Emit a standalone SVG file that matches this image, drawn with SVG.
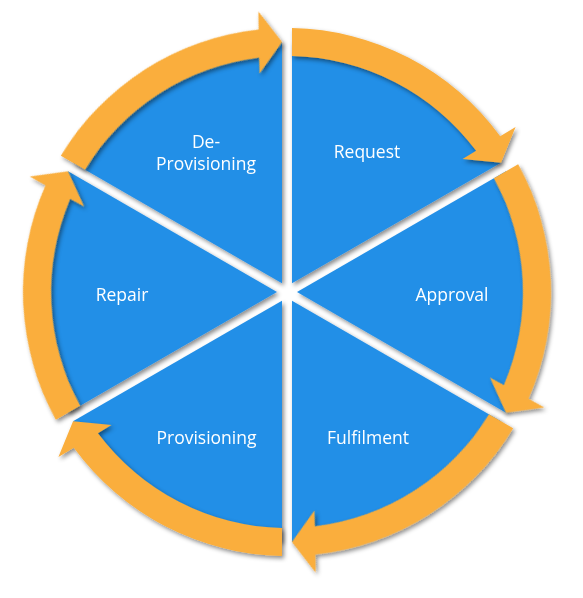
<svg xmlns="http://www.w3.org/2000/svg" width="583" height="598" viewBox="0 0 583 598">
<defs>
<filter id="sh" x="-10%" y="-10%" width="125%" height="125%">
<feDropShadow dx="2" dy="2.5" stdDeviation="2" flood-color="#000" flood-opacity="0.45"/>
</filter>
<path id="wedge" d="M292,283.34 L292,42.05 A250,250 0 0 1 500.96,162.70 Z"/>
<path id="arrow" d="M292,28.05 A264,264 0 0 1 500.19,136.30 L515.59,126.98 L500.96,162.70 L462.53,159.06 L476.12,150.84 A236,236 0 0 0 292,56.05 Z"/>
</defs>
<style>
.w{fill:#238FE7}
.a{fill:#FAAE3C}
.t{fill:#fff;font-family:"Open Sans","Noto Sans",sans-serif;font-size:17.5px;text-anchor:middle}
</style>
<rect width="583" height="598" fill="#fff"/>
<g id="node-request" filter="url(#sh)"><use href="#wedge" class="w"/></g>
<g id="node-approval" filter="url(#sh)"><use href="#wedge" class="w" transform="rotate(60 287 292)"/></g>
<g id="node-fulfilment" filter="url(#sh)"><use href="#wedge" class="w" transform="rotate(120 287 292)"/></g>
<g id="node-provisioning" filter="url(#sh)"><use href="#wedge" class="w" transform="rotate(180 287 292)"/></g>
<g id="node-repair" filter="url(#sh)"><use href="#wedge" class="w" transform="rotate(240 287 292)"/></g>
<g id="node-deprovisioning" filter="url(#sh)"><use href="#wedge" class="w" transform="rotate(300 287 292)"/></g>
<g id="connectors" filter="url(#sh)">
<use href="#arrow" class="a"/>
<use href="#arrow" class="a" transform="rotate(60 287 292)"/>
<use href="#arrow" class="a" transform="rotate(120 287 292)"/>
<use href="#arrow" class="a" transform="rotate(180 287 292)"/>
<use href="#arrow" class="a" transform="rotate(240 287 292)"/>
<use href="#arrow" class="a" transform="rotate(300 287 292)"/>
</g>
<g id="labels">
<text class="t" x="367" y="158">Request</text>
<text class="t" x="452" y="301">Approval</text>
<text class="t" x="368" y="444">Fulfilment</text>
<text class="t" x="206.5" y="444">Provisioning</text>
<text class="t" x="122" y="301">Repair</text>
<text class="t" x="206" y="147.5">De-</text>
<text class="t" x="206" y="170">Provisioning</text>
</g>
</svg>
